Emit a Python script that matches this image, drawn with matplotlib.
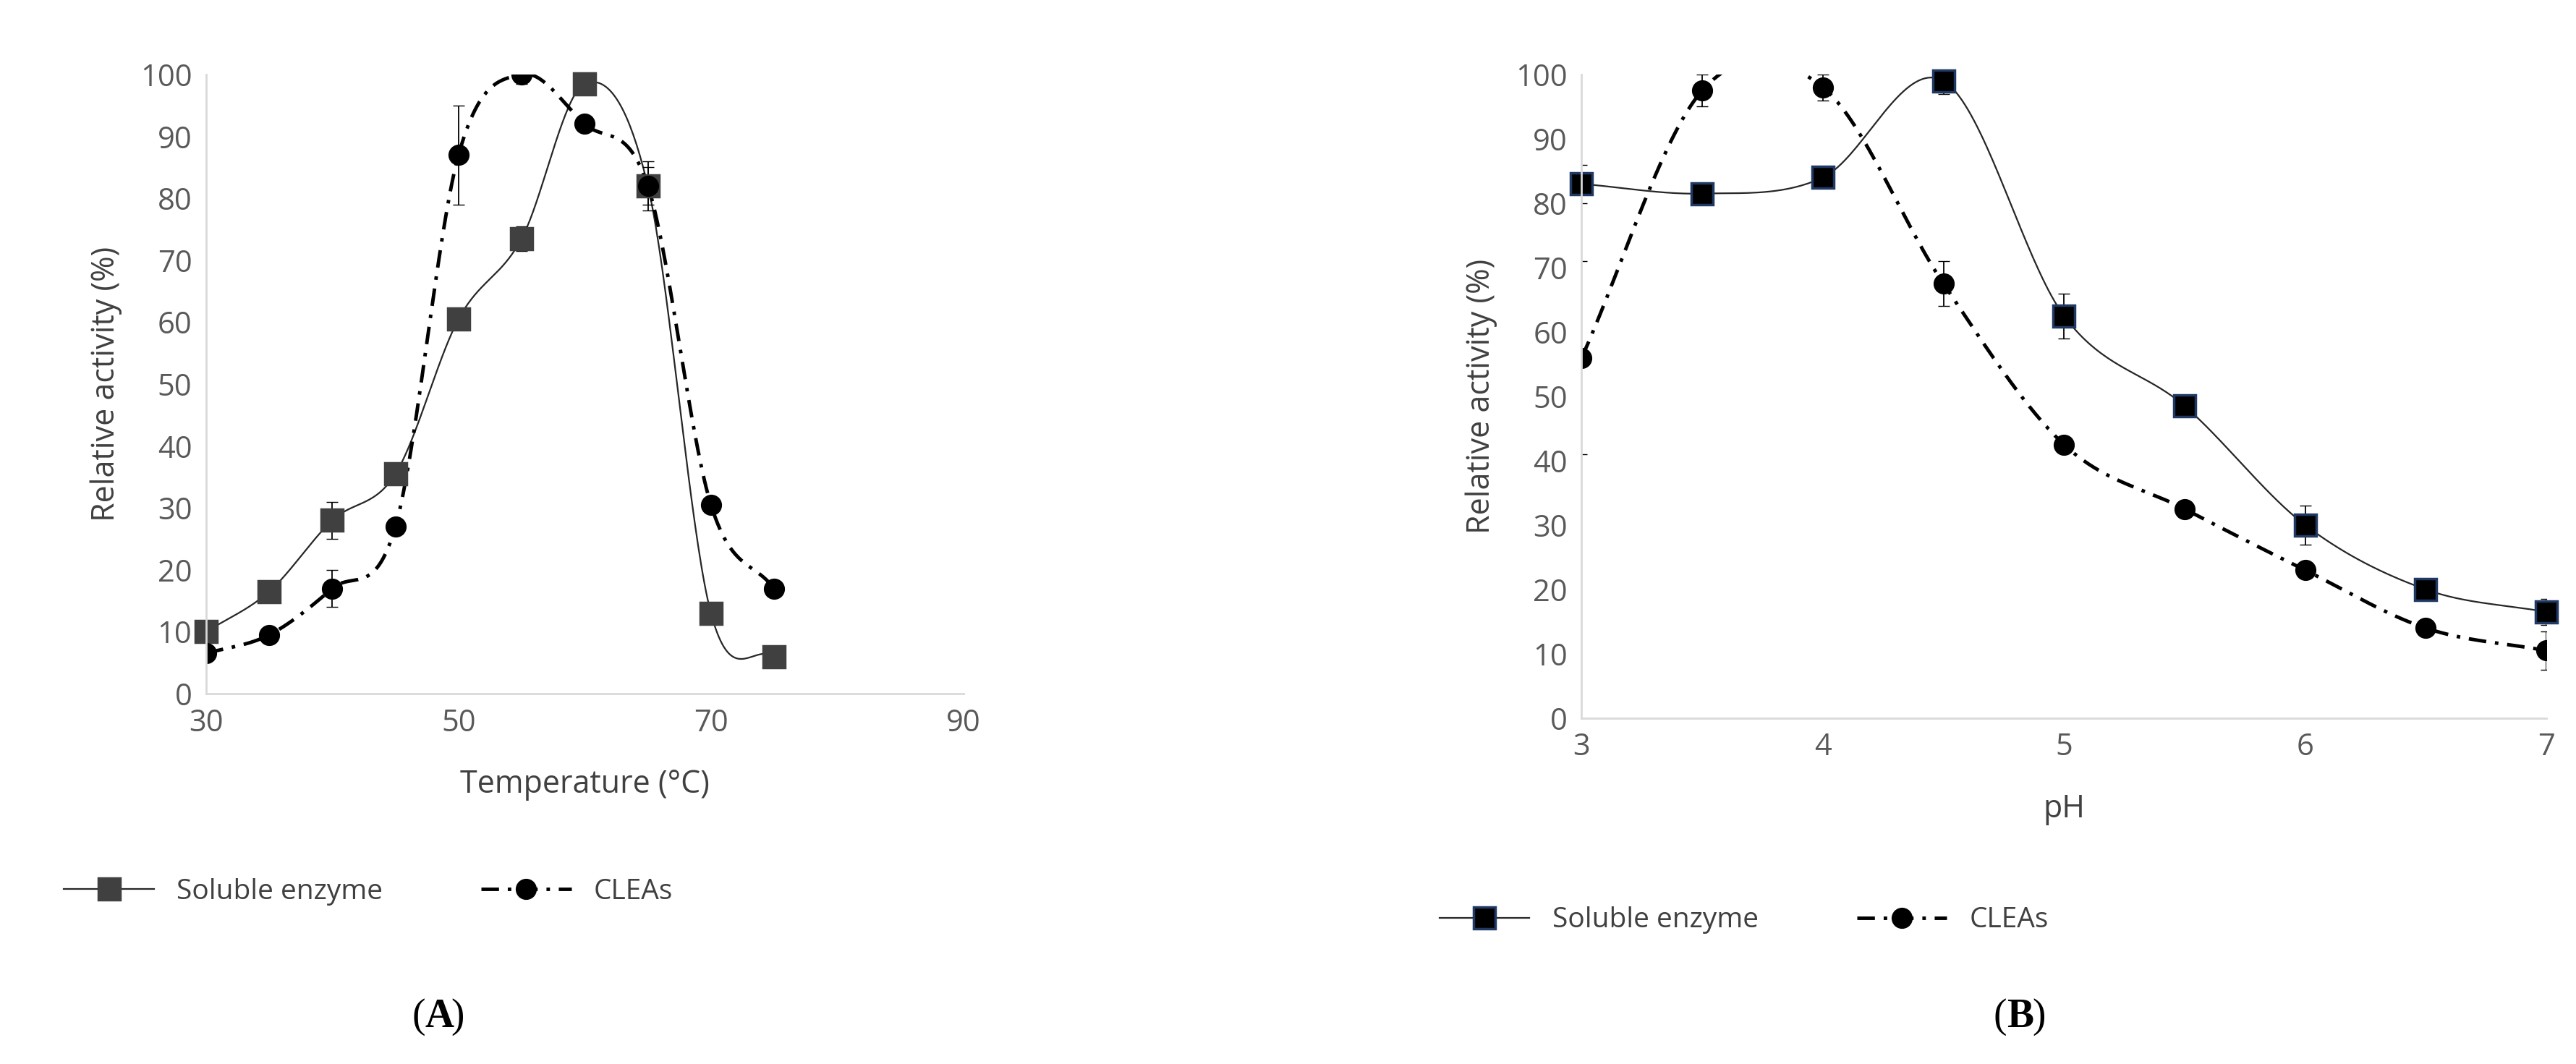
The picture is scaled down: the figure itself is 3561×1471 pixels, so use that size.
import numpy as np
import matplotlib
matplotlib.use("Agg")
import matplotlib.pyplot as plt
from matplotlib.lines import Line2D

# Panel A: temperature
temp = [30, 35, 40, 45, 50, 55, 60, 65, 70, 75]
temp_sol = [10, 16.5, 28, 35.5, 60.5, 73.5, 98.5, 82, 13, 6]
temp_sol_err = [0, 0, 3, 1, 0, 2, 1, 4, 0, 0]
temp_clea = [6.5, 9.5, 17, 27, 87, 100, 92, 82, 30.5, 17]
temp_clea_err = [0, 0, 3, 1, 8, 1.5, 0, 3, 1, 0]

# Panel B: pH
ph = [3, 3.5, 4, 4.5, 5, 5.5, 6, 6.5, 7]
ph_sol = [83, 81.5, 84, 99, 62.5, 48.5, 30, 20, 16.5]
ph_sol_err = [3, 0, 0, 2, 3.5, 0, 3, 0, 2]
ph_clea = [56, 97.5, 98, 67.5, 42.5, 32.5, 23, 14, 10.5]
ph_clea_err = [15, 2.5, 2, 3.5, 0, 0, 0, 0, 3]

TICK = "#595959"
SPINE = "#d9d9d9"
FONT = ["Open Sans", "DejaVu Sans"]
DASH = (0, (5, 2.5, 1, 2.5))


def smooth(x, y, n=40):
    # Catmull-Rom style curve through the points, as Excel's smoothed line
    x = np.asarray(x, float)
    y = np.asarray(y, float)
    px = np.concatenate([[2 * x[0] - x[1]], x, [2 * x[-1] - x[-2]]])
    py = np.concatenate([[2 * y[0] - y[1]], y, [2 * y[-1] - y[-2]]])
    xs, ys = [], []
    t = np.linspace(0, 1, n)
    for i in range(1, len(px) - 2):
        for p, out in ((px, xs), (py, ys)):
            p0, p1, p2, p3 = p[i - 1], p[i], p[i + 1], p[i + 2]
            m1 = (p2 - p0) / 6
            m2 = (p3 - p1) / 6
            out.extend((1 - t) ** 3 * p1 + 3 * (1 - t) ** 2 * t * (p1 + m1)
                       + 3 * (1 - t) * t ** 2 * (p2 - m2) + t ** 3 * p2)
    return xs, ys


def panel(ax, x, sol, sol_err, clea, clea_err, xlim, xticks, xlabel, sq_edge):
    sx, sy = smooth(x, sol)
    ax.plot(sx, sy, color="#262626", lw=1.6)
    cx, cy = smooth(x, clea)
    ax.plot(cx, cy, color="black", lw=3.5, linestyle=DASH)
    ax.errorbar(x, sol, yerr=sol_err, fmt="none", ecolor="black", elinewidth=1.3, capsize=6)
    ax.errorbar(x, clea, yerr=clea_err, fmt="none", ecolor="black", elinewidth=1.3, capsize=6)
    ax.plot(x, sol, "s", ms=22, color="#404040" if sq_edge is None else "black",
            mec=sq_edge or "#404040", mew=2.5, ls="none", clip_on=False)
    ax.plot(x, clea, "o", ms=20, color="black", ls="none")
    ax.set_xlim(*xlim)
    ax.set_ylim(0, 100)
    ax.set_xticks(xticks)
    ax.set_yticks(range(0, 101, 10))
    for s in ("top", "right"):
        ax.spines[s].set_visible(False)
    for s in ("left", "bottom"):
        ax.spines[s].set_color(SPINE)
        ax.spines[s].set_linewidth(2)
    ax.tick_params(length=0, labelsize=30, labelcolor=TICK, pad=14)
    for lab in ax.get_xticklabels() + ax.get_yticklabels():
        lab.set_family(FONT)
    ax.set_ylabel("Relative activity (%)", fontsize=31, color="#404040", family=FONT, labelpad=18)
    ax.set_xlabel(xlabel, fontsize=31, color="#404040", family=FONT, labelpad=30)


fig = plt.figure(figsize=(35.61, 14.71), dpi=100)
axA = fig.add_axes([0.080, 0.348, 0.294, 0.582])
axB = fig.add_axes([0.614, 0.325, 0.3745, 0.605])
panel(axA, temp, temp_sol, temp_sol_err, temp_clea, temp_clea_err, (30, 90), [30, 50, 70, 90],
      "Temperature (°C)", None)
panel(axB, ph, ph_sol, ph_sol_err, ph_clea, ph_clea_err, (3, 7), [3, 4, 5, 6, 7], "pH", "#1f3864")

for ax, y, edge in ((axA, 0.162, "#404040"), (axB, 0.135, "#1f3864")):
    h1 = Line2D([], [], color="#262626", lw=1.6, marker="s", ms=22,
                mfc="#404040" if ax is axA else "black", mec=edge, mew=2.5)
    h2 = Line2D([], [], color="black", lw=3.5, linestyle=DASH, marker="o", ms=20)
    pos = ax.get_position()
    fig.legend([h1, h2], ["Soluble enzyme", "CLEAs"], loc="center left",
               bbox_to_anchor=(pos.x0 - 0.065, y), ncol=2, frameon=False,
               prop={"family": FONT, "size": 28}, labelcolor="#404040",
               handlelength=3.2, columnspacing=3.5)

fig.text(0.165, 0.035, "(", fontsize=40, family="Liberation Serif", ha="right")
fig.text(0.165, 0.035, "A", fontsize=40, family="Liberation Serif", weight="bold")
fig.text(0.175, 0.035, ")", fontsize=40, family="Liberation Serif")
fig.text(0.779, 0.035, "(", fontsize=40, family="Liberation Serif", ha="right")
fig.text(0.779, 0.035, "B", fontsize=40, family="Liberation Serif", weight="bold")
fig.text(0.789, 0.035, ")", fontsize=40, family="Liberation Serif")

fig.savefig("out.png", dpi=100, facecolor="white")
